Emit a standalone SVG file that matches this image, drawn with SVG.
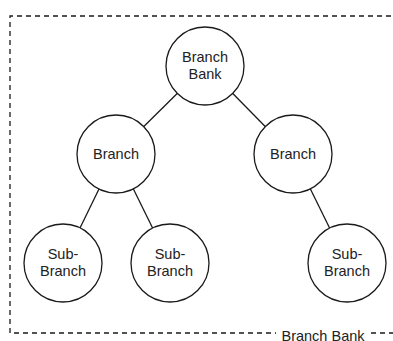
<svg xmlns="http://www.w3.org/2000/svg" width="393" height="341" viewBox="0 0 393 341">
  <style>
    .node circle { fill: #ffffff; stroke: #1a1a1a; stroke-width: 1.3; }
    .node text, .label { font-family: "Liberation Sans", Arial, sans-serif; font-size: 14.5px; fill: #222222; text-anchor: middle; }
    .edge { stroke: #1a1a1a; stroke-width: 1.3; fill: none; }
    .frame { stroke: #1a1a1a; stroke-width: 1.3; fill: none; stroke-dasharray: 5 4; }
  </style>
  <rect width="393" height="341" fill="#ffffff"/>
  <g id="container">
    <path class="frame" d="M 400 16 L 10 16 L 10 333 L 276 333"/>
    <path class="frame" d="M 371 333 L 400 333"/>
    <text class="label" x="323" y="340.5">Branch Bank</text>
  </g>
  <g id="connectors">
    <line class="edge" x1="177.2" y1="93.5" x2="143.8" y2="126.5"/>
    <line class="edge" x1="232.8" y1="93.5" x2="265.2" y2="126.5"/>
    <line class="edge" x1="99" y1="189" x2="80" y2="228"/>
    <line class="edge" x1="133.4" y1="189" x2="152.6" y2="228"/>
    <line class="edge" x1="310.4" y1="189" x2="329.6" y2="228"/>
  </g>
  <g id="branch-bank" class="node">
    <circle cx="205" cy="66" r="39"/>
    <text x="205" y="62">Branch</text>
    <text x="205" y="79">Bank</text>
  </g>
  <g id="branch-left" class="node">
    <circle cx="116" cy="154" r="39"/>
    <text x="116" y="159">Branch</text>
  </g>
  <g id="branch-right" class="node">
    <circle cx="293" cy="154" r="39"/>
    <text x="293" y="159">Branch</text>
  </g>
  <g id="sub-branch-1" class="node">
    <circle cx="63" cy="263" r="39"/>
    <text x="63" y="259">Sub-</text>
    <text x="63" y="276">Branch</text>
  </g>
  <g id="sub-branch-2" class="node">
    <circle cx="170" cy="263" r="39"/>
    <text x="170" y="259">Sub-</text>
    <text x="170" y="276">Branch</text>
  </g>
  <g id="sub-branch-3" class="node">
    <circle cx="347" cy="263" r="39"/>
    <text x="347" y="259">Sub-</text>
    <text x="347" y="276">Branch</text>
  </g>
</svg>
